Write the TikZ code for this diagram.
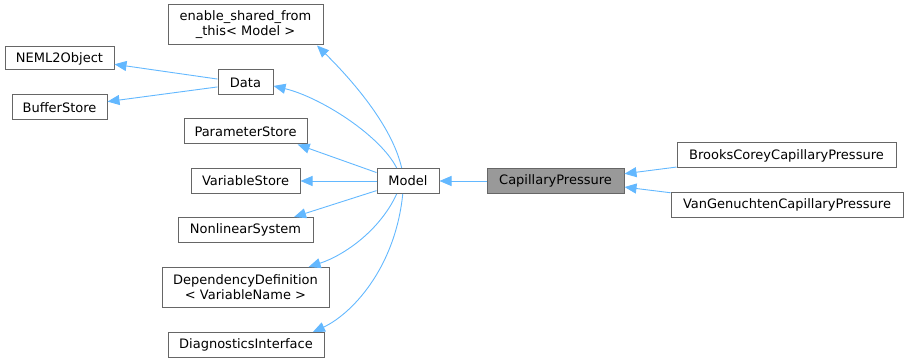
\documentclass[tikz,border=0pt]{standalone}
\usepackage{fontspec}
\setmainfont{DejaVu Sans}
\usetikzlibrary{arrows.meta}
\definecolor{edgeblue}{HTML}{63B8FF}
\definecolor{boxline}{HTML}{666666}
\definecolor{selfill}{HTML}{999999}
\begin{document}
\begin{tikzpicture}[x=1pt,y=-1pt,
  box/.style={draw=boxline, line width=1pt, fill=white, rectangle, inner sep=0pt,
    align=center, font=\fontsize{13}{15}\selectfont},
  sel/.style={box, fill=selfill},
  edge/.style={draw=edgeblue, line width=0.9pt,
    -{Triangle[length=12pt,width=10pt,fill=edgeblue]}}]
\useasboundingbox (0,0) rectangle (908,363);
% classes
\node[box, minimum width=155pt, minimum height=40pt] (esft) at (245.5,25) {enable\_shared\_from\\\_this< Model >};
\node[box, minimum width=109pt, minimum height=23pt] (neml) at (59.5,58.5) {NEML2Object};
\node[box, minimum width=55pt, minimum height=25pt] (data) at (245.5,82.5) {Data};
\node[box, minimum width=95pt, minimum height=25pt] (buf) at (59.5,107.5) {BufferStore};
\node[box, minimum width=123pt, minimum height=25pt] (par) at (245.5,131.5) {ParameterStore};
\node[box, minimum width=109pt, minimum height=25pt] (var) at (245.5,181) {VariableStore};
\node[box, minimum width=135pt, minimum height=25pt] (nls) at (245.5,230) {NonlinearSystem};
\node[box, minimum width=167pt, minimum height=40pt] (dep) at (245.5,287.5) {DependencyDefinition\\< VariableName >};
\node[box, minimum width=156pt, minimum height=25pt] (diag) at (246,345) {DiagnosticsInterface};
\node[box, minimum width=62pt, minimum height=25pt] (model) at (408,181) {Model};
\node[sel, minimum width=137pt, minimum height=25pt] (cp) at (555.5,181) {CapillaryPressure};
\node[box, minimum width=219pt, minimum height=25pt] (bc) at (786.5,155.5) {BrooksCoreyCapillaryPressure};
\node[box, minimum width=232pt, minimum height=25pt] (vg) at (787,205) {VanGenuchtenCapillaryPressure};
% inheritance edges
\draw[edge] (data.173) -- (neml.-6);
\draw[edge] (data.-171) -- (buf.7);
\draw[edge] (model.116) .. controls (392,125) and (350,78) .. (esft.-16.5);
\draw[edge] (model.131) .. controls (380,135) and (320,97) .. (data.-7);
\draw[edge] (model.165) -- (par.-14.7);
\draw[edge] (model.west) -- (var.east);
\draw[edge] (model.-163) -- (nls.15);
\draw[edge] (model.-131) .. controls (380,230) and (345,255) .. (dep.18);
\draw[edge] (model.-112) .. controls (395,270) and (350,315) .. (diag.11.8);
\draw[edge] (cp.west) -- (model.east);
\draw[edge] (bc.-174.5) -- (cp.6.2);
\draw[edge] (vg.174.6) -- (cp.-5.4);
\end{tikzpicture}
\end{document}
